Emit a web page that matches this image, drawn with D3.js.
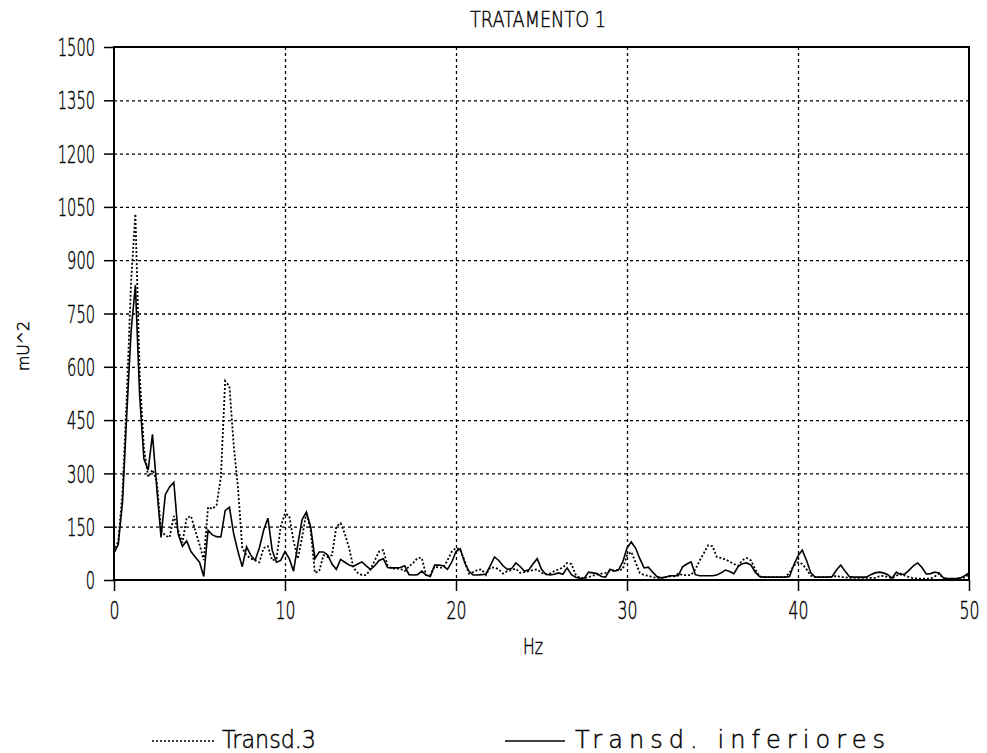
<!DOCTYPE html>
<html><head><meta charset="utf-8">
<script src="https://cdn.jsdelivr.net/npm/d3@7"></script>
<style>
html,body{margin:0;padding:0;background:#fff;}
text{font-family:"DejaVu Sans",sans-serif;font-weight:200;fill:#000;stroke:#000;stroke-width:0.45px;}
</style></head>
<body>
<svg id="chart" width="987" height="753"></svg>
<script>
const title = "TRATAMENTO 1";
const xLabel = "Hz";
const yLabel = "mU^2";
const seriesNames = ["Transd.3", "Transd. inferiores"];
const xTicks = [0, 10, 20, 30, 40, 50];
const yTicks = [0, 150, 300, 450, 600, 750, 900, 1050, 1200, 1350, 1500];

const freq = [
 0,0.25,0.5,0.75,1,1.25,1.5,1.75,2,2.25,2.5,2.75,3,3.25,3.5,3.75,4,4.25,4.5,4.75,
 5,5.25,5.5,5.75,6,6.25,6.5,6.75,7,7.25,7.5,7.75,8,8.25,8.5,8.75,9,9.25,9.5,9.75,
 10,10.25,10.5,10.75,11,11.25,11.5,11.75,12,12.25,12.5,12.75,13,13.25,13.5,13.75,14,14.25,14.5,14.75,
 15,15.25,15.5,15.75,16,16.25,16.5,16.75,17,17.25,17.5,17.75,18,18.25,18.5,18.75,19,19.25,19.5,19.75,
 20,20.25,20.5,20.75,21,21.25,21.5,21.75,22,22.25,22.5,22.75,23,23.25,23.5,23.75,24,24.25,24.5,24.75,
 25,25.25,25.5,25.75,26,26.25,26.5,26.75,27,27.25,27.5,27.75,28,28.25,28.5,28.75,29,29.25,29.5,29.75,
 30,30.25,30.5,30.75,31,31.25,31.5,31.75,32,32.25,32.5,32.75,33,33.25,33.5,33.75,34,34.25,34.5,34.75,
 35,35.25,35.5,35.75,36,36.25,36.5,36.75,37,37.25,37.5,37.75,38,38.25,38.5,38.75,39,39.25,39.5,39.75,
 40,40.25,40.5,40.75,41,41.25,41.5,41.75,42,42.25,42.5,42.75,43,43.25,43.5,43.75,44,44.25,44.5,44.75,
 45,45.25,45.5,45.75,46,46.25,46.5,46.75,47,47.25,47.5,47.75,48,48.25,48.5,48.75,49,49.25,49.5,49.75,
 50];

// Transd.3 (dotted)
const transd3 = [
 80,110,250,520,840,1030,580,370,290,310,280,140,125,120,180,140,105,175,180,140,
 100,56,205,200,211,290,560,545,380,260,90,70,60,56,50,90,95,55,60,150,
 188,180,110,60,120,190,140,20,25,70,65,70,150,160,130,90,35,20,14,14,
 30,55,80,84,40,32,32,32,25,38,48,62,62,14,14,38,35,35,55,80,
 90,85,55,18,22,28,30,14,35,35,30,18,25,28,32,20,22,25,28,30,
 20,16,18,25,30,35,48,45,15,5,5,8,12,15,18,20,25,28,28,30,
 70,79,50,20,14,12,8,6,5,8,10,10,18,14,14,14,30,55,76,98,
 95,65,62,58,52,45,40,56,62,55,30,10,8,8,8,8,8,8,20,40,
 50,45,30,12,8,8,8,8,8,12,8,8,6,6,6,6,6,6,6,10,
 12,8,5,12,18,12,8,5,4,4,4,4,10,18,4,2,1,1,2,8,
 15];

// Transd. inferiores (solid)
const transdInf = [
 76,100,220,470,700,830,520,340,310,410,260,120,240,262,275,130,95,110,80,65,
 50,10,140,127,122,121,195,205,130,80,37,93,70,55,90,140,174,84,50,55,
 80,60,25,100,170,191,150,60,79,79,70,45,30,58,50,42,38,45,51,40,
 30,40,55,60,35,34,34,35,40,15,14,15,25,14,10,42,42,40,30,50,
 80,88,50,25,14,14,15,17,40,65,55,40,30,32,48,38,25,28,45,60,
 30,16,14,16,20,16,34,15,8,5,5,22,20,18,10,8,30,25,28,51,
 90,107,90,60,34,36,22,10,6,8,12,12,12,37,45,51,15,12,12,12,
 12,14,20,28,24,18,38,46,48,42,22,10,8,8,8,8,8,8,10,42,
 68,84,55,20,8,8,8,8,10,28,42,25,10,8,8,8,8,15,20,22,
 20,15,5,22,15,17,28,40,48,35,17,18,22,20,6,4,4,4,6,12,
 20];

const svg = d3.select("#chart");
const L = 114, R = 969, T = 47, B = 580;
const x = d3.scaleLinear().domain([0, 50]).range([L, R]);
const y = d3.scaleLinear().domain([0, 1500]).range([B, T]);

// grid
const grid = svg.append("g");
grid.selectAll("line.h").data(yTicks.filter(d => d > 0 && d < 1500)).enter().append("line")
  .attr("x1", L).attr("x2", R).attr("y1", d => y(d) + 0.5).attr("y2", d => y(d) + 0.5)
  .attr("stroke", "#000").attr("stroke-width", 1.3).attr("stroke-dasharray", "3,3");
grid.selectAll("line.v").data(xTicks.filter(d => d > 0 && d < 50)).enter().append("line")
  .attr("x1", d => x(d) + 0.5).attr("x2", d => x(d) + 0.5).attr("y1", T).attr("y2", B)
  .attr("stroke", "#000").attr("stroke-width", 1.3).attr("stroke-dasharray", "3,3");

// axes
const yAxis = d3.axisLeft(y).tickValues(yTicks).tickSize(10).tickPadding(9).tickFormat(d3.format("d"));
const gy = svg.append("g").attr("transform", `translate(${L},0)`).call(yAxis);
gy.select(".domain").remove();
gy.selectAll(".tick line").attr("stroke-width", 1.5);
gy.selectAll(".tick text").attr("font-size", 24).attr("font-family", null).attr("dy", "0.36em")
  .attr("textLength", d => String(d).length * 9.3).attr("lengthAdjust", "spacingAndGlyphs");

const xAxis = d3.axisBottom(x).tickValues(xTicks).tickSize(11).tickPadding(11).tickFormat(d3.format("d"));
const gx = svg.append("g").attr("transform", `translate(0,${B})`).call(xAxis);
gx.select(".domain").remove();
gx.selectAll(".tick line").attr("stroke-width", 1.5);
gx.selectAll(".tick text").attr("font-size", 24).attr("font-family", null)
  .attr("textLength", d => String(d).length * 10).attr("lengthAdjust", "spacingAndGlyphs");

// frame
svg.append("rect").attr("x", L).attr("y", T).attr("width", R - L).attr("height", B - T)
  .attr("fill", "none").attr("stroke", "#000").attr("stroke-width", 2);

// series
const line = d3.line().x((d, i) => x(freq[i])).y(d => y(d));
svg.append("path").datum(transd3).attr("d", line).attr("fill", "none")
  .attr("stroke", "#000").attr("stroke-width", 1.8).attr("stroke-dasharray", "2,2");
svg.append("path").datum(transdInf).attr("d", line).attr("fill", "none")
  .attr("stroke", "#000").attr("stroke-width", 1.6);

// titles
svg.append("text").attr("x", 538).attr("y", 27).attr("text-anchor", "middle")
  .attr("font-size", 22).attr("textLength", 136).attr("lengthAdjust", "spacingAndGlyphs").text(title);
svg.append("text").attr("x", 533).attr("y", 654).attr("text-anchor", "middle")
  .attr("font-size", 22).attr("textLength", 20).attr("lengthAdjust", "spacingAndGlyphs").text(xLabel);
svg.append("text").attr("transform", "translate(29,346) rotate(-90)").attr("text-anchor", "middle")
  .attr("font-size", 15).attr("textLength", 50).attr("lengthAdjust", "spacingAndGlyphs").text(yLabel);

// legend
const leg = svg.append("g");
leg.append("line").attr("x1", 152).attr("x2", 214).attr("y1", 741).attr("y2", 741)
  .attr("stroke", "#000").attr("stroke-width", 1.5).attr("stroke-dasharray", "2,2");
leg.append("text").attr("x", 222).attr("y", 748).attr("font-size", 24)
  .attr("textLength", 94).attr("lengthAdjust", "spacingAndGlyphs").text(seriesNames[0]);
leg.append("line").attr("x1", 505).attr("x2", 565).attr("y1", 741).attr("y2", 741)
  .attr("stroke", "#000").attr("stroke-width", 1.6);
leg.append("text").attr("x", 575).attr("y", 748).attr("font-size", 24)
  .attr("textLength", 310).attr("lengthAdjust", "spacing").text(seriesNames[1]);
</script>
</body></html>
